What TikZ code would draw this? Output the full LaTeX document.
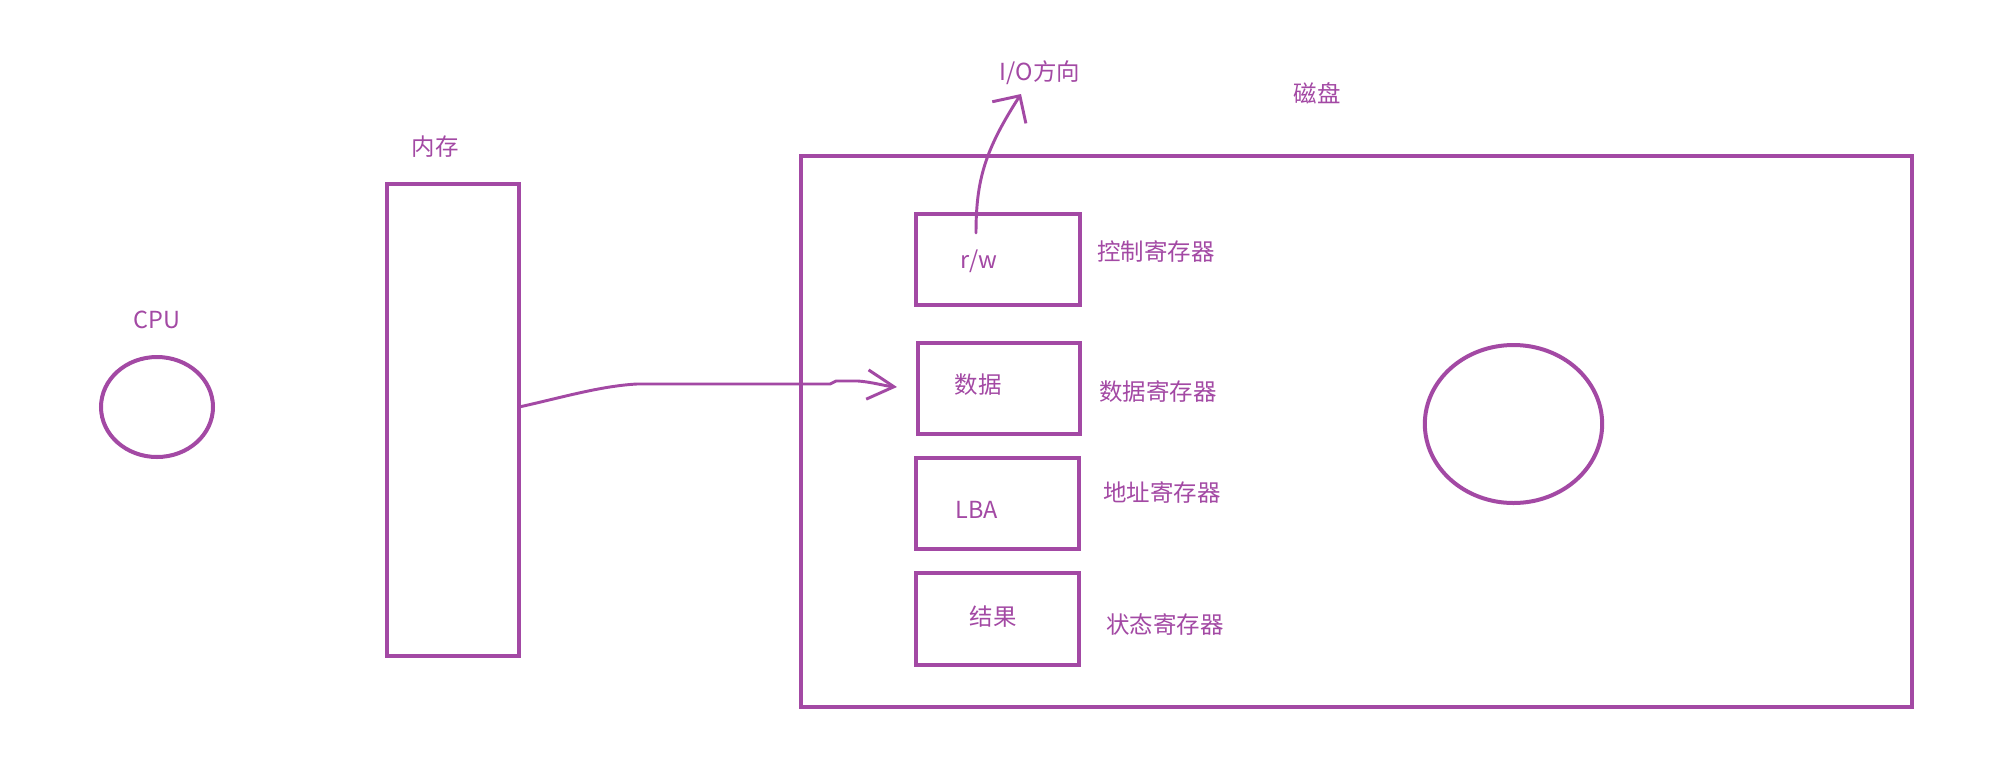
\documentclass[tikz,border=0pt]{standalone}
\usepackage{fontspec}
\setmainfont{Noto Sans CJK SC}
\usetikzlibrary{arrows.meta,fit,shapes.geometric}
\definecolor{pp}{RGB}{163,73,164}
\begin{document}
\begin{tikzpicture}[x=0.75pt,y=-0.75pt,
  box/.style={draw=pp,line width=3pt,inner sep=0pt,outer sep=0pt},
  lbl/.style={text=pp,font=\fontsize{17.6pt}{20pt}\selectfont,inner sep=0pt},
  hand/.style={draw=pp,line width=2.2pt,line cap=round,line join=round}]
\path[fill=white,use as bounding box] (0,0) rectangle (1992,765);
% CPU
\node[box,ellipse,minimum width=84pt,minimum height=75pt] (cpu) at (157,407) {};
\node[lbl] (cpul) at (157,320) {CPU};
% memory
\node[box,fit={(387,184) (519,656)}] (mem) {};
\node[lbl] (meml) at (435,147) {内存};
% disk
\node[box,fit={(801,156) (1912,707)}] (disk) {};
\node[lbl] (diskl) at (1317,93) {磁盘};
\node[box,ellipse,minimum width=133pt,minimum height=118.5pt] (plat) at (1513.5,424) {};
% registers
\node[box,fit={(916,214) (1080,305)}] (ctrl) {};
\node[box,fit={(918,343) (1080,434)}] (data) {};
\node[box,fit={(916,458) (1079,549)}] (lba) {};
\node[box,fit={(916,573) (1079,665)}] (res) {};
\node[lbl] (rw) at (979,261) {r/w};
\node[lbl] (datat) at (978,385) {数据};
\node[lbl] (lbat) at (977,510) {LBA};
\node[lbl] (rest) at (993,617) {结果};
\node[lbl] (ctrll) at (1156,252) {控制寄存器};
\node[lbl] (datal) at (1158,392) {数据寄存器};
\node[lbl] (lbal) at (1162,493) {地址寄存器};
\node[lbl] (resl) at (1165,625) {状态寄存器};
\node[lbl] (iol) at (1040,73) {I/O方向};
% connectors
\coordinate (dend) at (897,387);
\draw[hand,-{Straight Barb[length=20pt,width=22pt]}] (mem.east |- 0,407)
  .. controls (560,398) and (600,386) .. (637,384) -- (830,384) -- (836,381) -- (858,381)
  .. controls (872,382) and (885,386) .. (dend);
\coordinate (iostart) at (976,233);
\coordinate (ioend) at (1021,94);
\draw[hand,-{Straight Barb[length=15pt,width=30pt]}] (iostart)
  .. controls (976,180) and (985,150) .. (ioend);
\end{tikzpicture}
\end{document}
